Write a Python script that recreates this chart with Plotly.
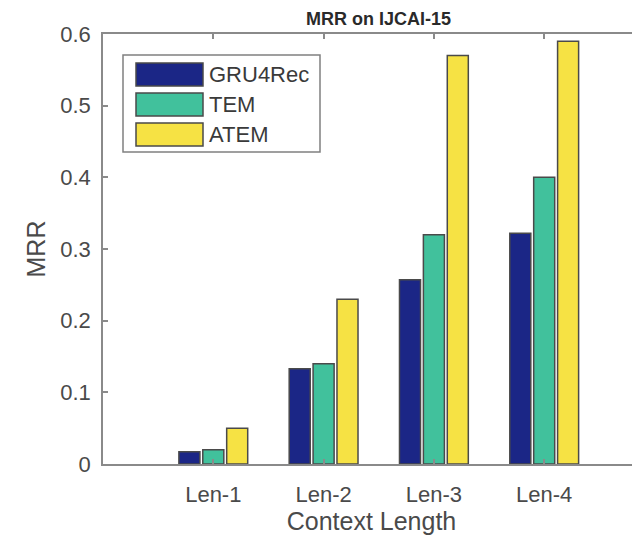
import plotly.graph_objects as go

categories = ["Len-1", "Len-2", "Len-3", "Len-4"]
series_names = ["GRU4Rec", "TEM", "ATEM"]
gru4rec = [0.017, 0.133, 0.257, 0.322]
tem = [0.020, 0.140, 0.320, 0.400]
atem = [0.050, 0.230, 0.570, 0.590]
colors = ["#1b2686", "#41c19c", "#f6e244"]
y_ticks = [0, 0.1, 0.2, 0.3, 0.4, 0.5, 0.6]

# page has an 8px body margin; compensate so the figure fills the 640x541 window
OFF = 8
W, H = 640 - OFF, 541 - OFF
L, R, T, B = 103 - OFF, 0, 34 - OFF, 541 - 464
PW, PH = W - L - R, H - T - B

def px(x):  # page pixel -> paper
    return (x - OFF - L) / PW

def py(y):
    return (H - B - (y - OFF)) / PH

xpos = [i + 1 for i in range(len(categories))]
FONT = "Liberation Sans, Arial, sans-serif"

fig = go.Figure()
for name, vals, col in zip(series_names, [gru4rec, tem, atem], colors):
    fig.add_trace(go.Bar(
        x=xpos, y=vals, name=name,
        marker=dict(color=col, line=dict(color="#4a4a4a", width=1.5)),
        showlegend=False,
    ))

# custom legend mimicking the wide swatches
shapes = [dict(type="rect", xref="paper", yref="paper",
               x0=px(123), x1=px(320), y0=py(152), y1=py(55),
               line=dict(color="#808080", width=1.5), fillcolor="white", layer="above")]
annotations = []
rows = [(63, 86), (93, 116), (123, 146)]
for (t0, t1), name, col in zip(rows, series_names, colors):
    shapes.append(dict(type="rect", xref="paper", yref="paper",
                       x0=px(136), x1=px(203), y0=py(t1), y1=py(t0),
                       line=dict(color="#4a4a4a", width=1.5), fillcolor=col, layer="above"))
    annotations.append(dict(xref="paper", yref="paper", x=px(207), y=py((t0 + t1) / 2),
                            text=name, showarrow=False, xanchor="left", yanchor="middle",
                            font=dict(family=FONT, size=22, color="#3a3a3a")))

annotations.append(dict(xref="x", yref="paper", x=2.5, y=py(19), text="<b>MRR on IJCAI-15</b>",
                        showarrow=False, xanchor="center", yanchor="middle",
                        font=dict(family=FONT, size=18, color="#2a2a2a")))

fig.update_layout(
    width=W, height=H,
    margin=dict(l=L, r=R, t=T, b=B, autoexpand=False),
    paper_bgcolor="white", plot_bgcolor="white",
    barmode="group", bargap=0.35, bargroupgap=0.12,
    shapes=shapes, annotations=annotations,
    font=dict(family=FONT, size=22, color="#4a4a4a"),
)
fig.update_xaxes(
    automargin=False,
    range=[0, PW / 110.3], tickmode="array", tickvals=xpos, ticktext=categories,
    showline=True, linecolor="#8a8a8a", linewidth=1.5, mirror="ticks",
    ticks="inside", ticklen=5, tickcolor="#8a8a8a", tickwidth=1.5,
    showgrid=False, zeroline=False, ticklabelstandoff=10,
    tickfont=dict(family=FONT, size=22, color="#4a4a4a"),
    title=dict(text="Context Length", font=dict(family=FONT, size=25, color="#4a4a4a"), standoff=2),
)
fig.update_yaxes(
    automargin=False,
    range=[0, 0.6], tickmode="array", tickvals=y_ticks, ticktext=[f"{v:g}" for v in y_ticks],
    showline=True, linecolor="#8a8a8a", linewidth=1.5,
    ticks="inside", ticklen=5, tickcolor="#8a8a8a", tickwidth=1.5,
    showgrid=False, zeroline=False, ticklabelstandoff=6,
    tickfont=dict(family=FONT, size=22, color="#4a4a4a"),
    title=dict(text="MRR", font=dict(family=FONT, size=25, color="#4a4a4a"), standoff=8),
)
fig.write_html("out.html")
